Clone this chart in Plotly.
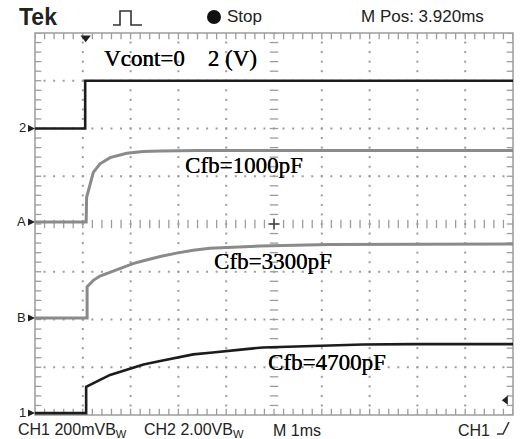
import numpy as np
import plotly.graph_objects as go

# ---- acquisition settings ----
TIME_PER_DIV_MS = 1.0          # M 1ms
CH1_V_PER_DIV = 0.2            # CH1 200mV (reference waveforms use the same scale)
CH2_V_PER_DIV = 2.0            # CH2 2.00V

# ground-marker positions (divisions above the bottom of the graticule)
pos_ch2 = 6.0
pos_refA = 4.04
pos_refB = 2.03
pos_ch1 = 0.04

# ---- waveforms (time in ms, amplitude in V relative to ground marker) ----
ch2_t = [0.0, 1.05, 1.05, 10.0]
ch2_v = [0.0, 0.0, 2.0, 2.0]

refA_t = [0.0, 1.07, 1.08, 1.15, 1.22, 1.36, 1.57, 1.92, 2.26, 2.62, 3.45, 10.0]
refA_v = [0.0, 0.0, 0.104, 0.162, 0.208, 0.244, 0.270, 0.288, 0.296, 0.298, 0.300, 0.300]

refB_t = [0.0, 1.09, 1.09, 1.22, 1.36, 1.57, 1.71, 1.92, 2.05, 2.27, 2.41, 2.62,
          2.96, 3.31, 3.66, 4.01, 4.71, 6.17, 10.0]
refB_v = [0.0, 0.0, 0.131, 0.158, 0.176, 0.192, 0.204, 0.218, 0.228, 0.240, 0.248, 0.258,
          0.272, 0.284, 0.292, 0.296, 0.302, 0.308, 0.310]

ch1_t = [0.0, 1.07, 1.07, 1.22, 1.57, 1.92, 2.27, 2.62, 3.03, 3.31, 3.72, 4.01,
         4.36, 4.77, 5.82, 6.86, 7.91, 10.0]
ch1_v = [0.0, 0.0, 0.110, 0.124, 0.160, 0.182, 0.204, 0.218, 0.233, 0.246, 0.254, 0.261,
         0.267, 0.275, 0.282, 0.287, 0.289, 0.289]

labels = ["Cfb=1000pF", "Cfb=3300pF", "Cfb=4700pF"]
gnd_names = ["2", "A", "B", "1"]
trigger_t = 1.06
trigger_level_div = 0.31

# ---- screen geometry helpers ----
W, H = 522, 439
L, R, T, B = 35, 9, 33, 24
PW, PH = W - L - R, H - T - B


def px(p):
    """horizontal pixel -> paper fraction"""
    return (p - L) / PW


def py(p):
    """vertical pixel -> paper fraction"""
    return (H - B - p) / PH


def to_div(t, v, vdiv, pos):
    return [ti / TIME_PER_DIV_MS for ti in t], [vi / vdiv + pos for vi in v]


fig = go.Figure()

GRID = "#9c9c9c"
steps_x = np.round(np.arange(0, 10.001, 0.2), 3)
steps_y = np.round(np.arange(0, 8.001, 0.2), 3)

# dotted major graticule lines
dx, dy = [], []
for gx in [1, 2, 3, 4, 6, 7, 8, 9]:
    for y in steps_y[1:-1]:
        dx.append(gx); dy.append(y)
for gy in [1, 2, 3, 5, 6, 7]:
    for x in steps_x[1:-1]:
        dx.append(x); dy.append(gy)
fig.add_trace(go.Scatter(x=dx, y=dy, mode="markers", hoverinfo="skip",
                         marker=dict(symbol="square", size=2, color=GRID, line=dict(width=0))))

# centre cross with minor ticks
fig.add_trace(go.Scatter(x=list(steps_x), y=[4] * len(steps_x), mode="markers", hoverinfo="skip",
                         marker=dict(symbol="line-ns", size=6, line=dict(width=1.3, color=GRID))))
fig.add_trace(go.Scatter(x=[5] * len(steps_y), y=list(steps_y), mode="markers", hoverinfo="skip",
                         marker=dict(symbol="line-ew", size=6, line=dict(width=1.3, color=GRID))))

# edge ticks
fig.add_trace(go.Scatter(x=list(steps_x) * 2, y=[0] * len(steps_x) + [8] * len(steps_x),
                         mode="markers", hoverinfo="skip",
                         marker=dict(symbol="line-ns", size=9, line=dict(width=1.3, color=GRID))))
fig.add_trace(go.Scatter(x=[0] * len(steps_y) + [10] * len(steps_y), y=list(steps_y) * 2,
                         mode="markers", hoverinfo="skip",
                         marker=dict(symbol="line-ew", size=9, line=dict(width=1.3, color=GRID))))

# waveforms
for t, v, vdiv, pos, col, w in [
    (refA_t, refA_v, CH1_V_PER_DIV, pos_refA, "#8a8a8a", 3),
    (refB_t, refB_v, CH1_V_PER_DIV, pos_refB, "#8a8a8a", 3),
    (ch1_t, ch1_v, CH1_V_PER_DIV, pos_ch1, "#1c1c1c", 2.6),
    (ch2_t, ch2_v, CH2_V_PER_DIV, pos_ch2, "#1c1c1c", 2.6),
]:
    xs, ys = to_div(t, v, vdiv, pos)
    fig.add_trace(go.Scatter(x=xs, y=ys, mode="lines", hoverinfo="skip",
                             line=dict(color=col, width=w)))

# centre mark, trigger position and trigger level markers
fig.add_trace(go.Scatter(x=[5], y=[4], mode="markers", hoverinfo="skip",
                         marker=dict(symbol="cross-thin", size=8, line=dict(width=1.5, color="#444"))))
fig.add_trace(go.Scatter(x=[trigger_t / TIME_PER_DIV_MS], y=[7.9], mode="markers",
                         hoverinfo="skip", cliponaxis=False,
                         marker=dict(symbol="triangle-down", size=9, color="#222")))
fig.add_trace(go.Scatter(x=[9.85], y=[trigger_level_div], mode="markers",
                         hoverinfo="skip", cliponaxis=False,
                         marker=dict(symbol="triangle-left", size=8, color="#222")))

annotations = []
shapes = []
UI_FONT = "Liberation Sans, Arial, sans-serif"

# ground markers on the left edge
gnd_pos = [pos_ch2, pos_refA, pos_refB, pos_ch1]
for name, p in zip(gnd_names, gnd_pos):
    yp = p / 8.0
    annotations.append(dict(xref="paper", yref="paper", x=px(27), y=yp, text=name,
                            showarrow=False, xanchor="right", yanchor="middle",
                            yshift=1, borderpad=0,
                            font=dict(family=UI_FONT, size=13, color="#222")))
    shapes.append(dict(type="path", xref="paper", yref="paper",
                       path="M {a},{b} L {c},{d} L {a},{e} Z".format(
                           a=px(28), c=px(35), b=yp + 3.5 / PH, d=yp, e=yp - 3.5 / PH),
                       fillcolor="#222", line=dict(width=0)))

# curve labels
SERIF = "Liberation Serif, Times New Roman, serif"
for x_, y_, txt in [(244, 165, labels[0]), (273, 261, labels[1]), (327, 362, labels[2]),
                    (180, 58, "Vcont=0\u00a0\u00a0\u00a0\u00a02 (V)")]:
    annotations.append(dict(xref="paper", yref="paper", x=px(x_), y=py(y_), text=txt,
                            showarrow=False, xanchor="center", yanchor="middle",
                            font=dict(family=SERIF, size=23, color="#000",
                                      shadow="0.35px 0.2px 0px #000")))

# header and footer readouts
for x_, y_, txt, size in [
    (18, 17, "<b>Tek</b>", 23),
    (226, 16, "Stop", 17),
    (360, 16, "M Pos: 3.920ms", 17),
    (17, 430, "CH1 200mVB<sub>W</sub>", 16),
    (143, 430, "CH2 2.00VB<sub>W</sub>", 16),
    (272, 430, "M 1ms", 16),
    (457, 430, "CH1", 16),
]:
    annotations.append(dict(xref="paper", yref="paper", x=px(x_), y=py(y_), text=txt,
                            showarrow=False, xanchor="left", yanchor="middle",
                            borderpad=0,
                            font=dict(family=UI_FONT, size=size, color="#222")))

shapes += [
    # graticule border
    dict(type="rect", xref="paper", yref="paper", x0=0, y0=0, x1=1, y1=1,
         line=dict(color=GRID, width=1.5), layer="below"),
    # run-state indicator
    dict(type="circle", xref="paper", yref="paper",
         x0=px(207), x1=px(221), y0=py(10), y1=py(24),
         fillcolor="#111", line=dict(width=0)),
    # trigger type icon (pulse)
    dict(type="path", xref="paper", yref="paper",
         path="M {a},{b} L {c},{b} L {c},{d} L {e},{d} L {e},{b} L {f},{b}".format(
             a=px(113), b=py(25), c=px(120), d=py(11), e=px(131), f=px(142)),
         line=dict(color="#333", width=1.6)),
    # trigger slope icon
    dict(type="path", xref="paper", yref="paper",
         path="M {a},{b} L {c},{b} L {d},{e}".format(
             a=px(497), b=py(434), c=px(503), d=px(509), e=py(422)),
         line=dict(color="#333", width=1.6)),
]

fig.update_layout(
    width=W, height=H,
    margin=dict(l=L, r=R, t=T, b=B),
    paper_bgcolor="white", plot_bgcolor="white",
    showlegend=False,
    xaxis=dict(range=[0, 10], visible=False, fixedrange=True),
    yaxis=dict(range=[0, 8], visible=False, fixedrange=True),
    annotations=annotations,
    shapes=shapes,
)

fig.write_html("out.html")
